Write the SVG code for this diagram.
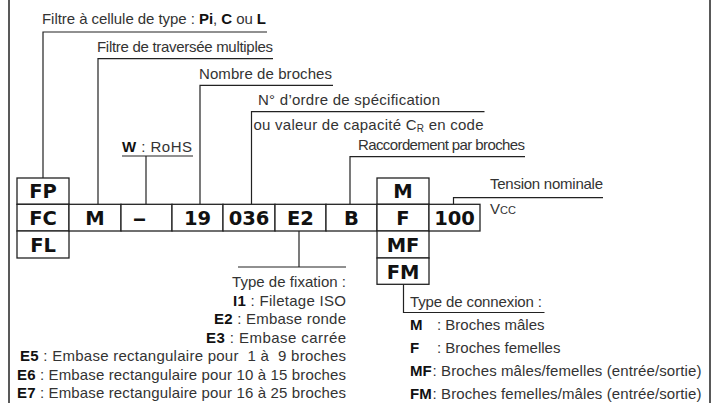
<svg xmlns="http://www.w3.org/2000/svg" width="717" height="403" viewBox="0 0 717 403">
<style>
.t{font-family:"Liberation Sans",Arial,sans-serif;font-size:15px;fill:#333}
.b{font-weight:bold;fill:#111}
.lbl{font-family:"DejaVu Sans",sans-serif;font-weight:bold;font-size:19.5px;fill:#111;text-anchor:middle}
.box{fill:#fff;stroke:#222;stroke-width:1.3}
.ln{fill:none;stroke:#222;stroke-width:1.2}
.fr{stroke:#222;stroke-width:1.5}
</style>
<rect x="0" y="0" width="717" height="403" fill="#fff"/>
<g id="frame">
<line class="fr" x1="9" y1="0" x2="9" y2="403"/>
<line class="fr" x1="710" y1="0" x2="710" y2="403"/>
</g>
<g id="connectors">
<polyline class="ln" points="43,178 43,32 267,32"/>
<polyline class="ln" points="98,204 98,58.7 273,58.7"/>
<polyline class="ln" points="200,204 200,85.3 333,85.3"/>
<polyline class="ln" points="251.5,204 251.5,111.7 484.5,111.7"/>
<polyline class="ln" points="350,204 350,156.7 525,156.7"/>
<line class="ln" x1="122" y1="156" x2="193" y2="156"/>
<line class="ln" x1="146" y1="156" x2="146" y2="204"/>
<polyline class="ln" points="453.5,204 453.5,197.7 603,197.7"/>
<line class="ln" x1="299" y1="231" x2="299" y2="267"/>
<line class="ln" x1="238" y1="267" x2="346" y2="267"/>
<polyline class="ln" points="403.5,284 403.5,312.5 544.5,312.5"/>
</g>
<g id="node-type">
<rect class="box" x="17" y="178" width="52" height="26.3"/>
<rect class="box" x="17" y="204.3" width="52" height="26.7"/>
<rect class="box" x="17" y="231" width="52" height="27"/>
<text class="lbl" x="43" y="198">FP</text>
<text class="lbl" x="43" y="225">FC</text>
<text class="lbl" x="43" y="252">FL</text>
</g>
<g id="node-m">
<rect class="box" x="69" y="204.3" width="52" height="26.7"/>
<text class="lbl" x="95" y="225">M</text>
</g>
<g id="node-dash">
<rect class="box" x="121" y="204.3" width="51" height="26.7"/>
<text class="lbl" x="139.5" y="225" text-anchor="start" textLength="14" lengthAdjust="spacingAndGlyphs">–</text>
</g>
<g id="node-19">
<rect class="box" x="172" y="204.3" width="51" height="26.7"/>
<text class="lbl" x="197.5" y="225">19</text>
</g>
<g id="node-036">
<rect class="box" x="223" y="204.3" width="52" height="26.7"/>
<text class="lbl" x="249" y="225">036</text>
</g>
<g id="node-e2">
<rect class="box" x="275" y="204.3" width="51" height="26.7"/>
<text class="lbl" x="300.5" y="225">E2</text>
</g>
<g id="node-b">
<rect class="box" x="326" y="204.3" width="51" height="26.7"/>
<text class="lbl" x="351.5" y="225">B</text>
</g>
<g id="node-conn">
<rect class="box" x="377" y="178" width="52" height="26.3"/>
<rect class="box" x="377" y="204.3" width="52" height="26.7"/>
<rect class="box" x="377" y="231" width="52" height="27"/>
<rect class="box" x="377" y="258" width="52" height="26.3"/>
<text class="lbl" x="403" y="198">M</text>
<text class="lbl" x="403" y="225">F</text>
<text class="lbl" x="403" y="252">MF</text>
<text class="lbl" x="403" y="278.5">FM</text>
</g>
<g id="node-100">
<rect class="box" x="429" y="204.3" width="51" height="26.7"/>
<text class="lbl" x="454.5" y="225">100</text>
</g>
<g id="label-type">
<text class="t" x="42" y="24" textLength="224">Filtre à cellule de type : <tspan class="b">Pi</tspan>, <tspan class="b">C</tspan> ou <tspan class="b">L</tspan></text>
</g>
<g id="label-multi">
<text class="t" x="97" y="52" textLength="176">Filtre de traversée multiples</text>
</g>
<g id="label-nb">
<text class="t" x="199" y="79" textLength="133">Nombre de broches</text>
</g>
<g id="label-spec">
<text class="t" x="258" y="105" textLength="182">N° d’ordre de spécification</text>
<text class="t" x="253.5" y="130" textLength="230">ou valeur de capacité C<tspan font-size="10" dy="2">R</tspan><tspan dy="-2"> en code</tspan></text>
</g>
<g id="label-racc">
<text class="t" x="358" y="150" textLength="167">Raccordement par broches</text>
</g>
<g id="label-rohs">
<text class="t" x="122" y="152" textLength="70"><tspan class="b">W</tspan> : RoHS</text>
</g>
<g id="label-tension">
<text class="t" x="490" y="189" textLength="113">Tension nominale</text>
<text class="t" x="490" y="214">V<tspan font-size="11">CC</tspan></text>
</g>
<g id="label-fixation" text-anchor="end">
<text class="t" x="346" y="287" textLength="114">Type de fixation :</text>
<text class="t" x="346" y="305.5" textLength="113"><tspan class="b">I1</tspan> : Filetage ISO</text>
<text class="t" x="346" y="324" textLength="132"><tspan class="b">E2</tspan> : Embase ronde</text>
<text class="t" x="346" y="342.5" textLength="140"><tspan class="b">E3</tspan> : Embase carrée</text>
<text class="t" x="346" y="361" textLength="326" xml:space="preserve"><tspan class="b">E5</tspan> : Embase rectangulaire pour  1 à  9 broches</text>
<text class="t" x="346" y="379.5" textLength="329"><tspan class="b">E6</tspan> : Embase rectangulaire pour 10 à 15 broches</text>
<text class="t" x="346" y="398" textLength="329"><tspan class="b">E7</tspan> : Embase rectangulaire pour 16 à 25 broches</text>
</g>
<g id="label-connexion">
<text class="t" x="410" y="307" textLength="132">Type de connexion :</text>
<text class="t" x="410" y="330"><tspan class="b">M</tspan><tspan x="437">: Broches mâles</tspan></text>
<text class="t" x="410" y="353"><tspan class="b">F</tspan><tspan x="437">: Broches femelles</tspan></text>
<text class="t" x="410" y="376"><tspan class="b">MF</tspan></text>
<text class="t" x="432.5" y="376" textLength="269">: Broches mâles/femelles (entrée/sortie)</text>
<text class="t" x="410" y="399"><tspan class="b">FM</tspan></text>
<text class="t" x="432.5" y="399" textLength="269">: Broches femelles/mâles (entrée/sortie)</text>
</g>
</svg>
